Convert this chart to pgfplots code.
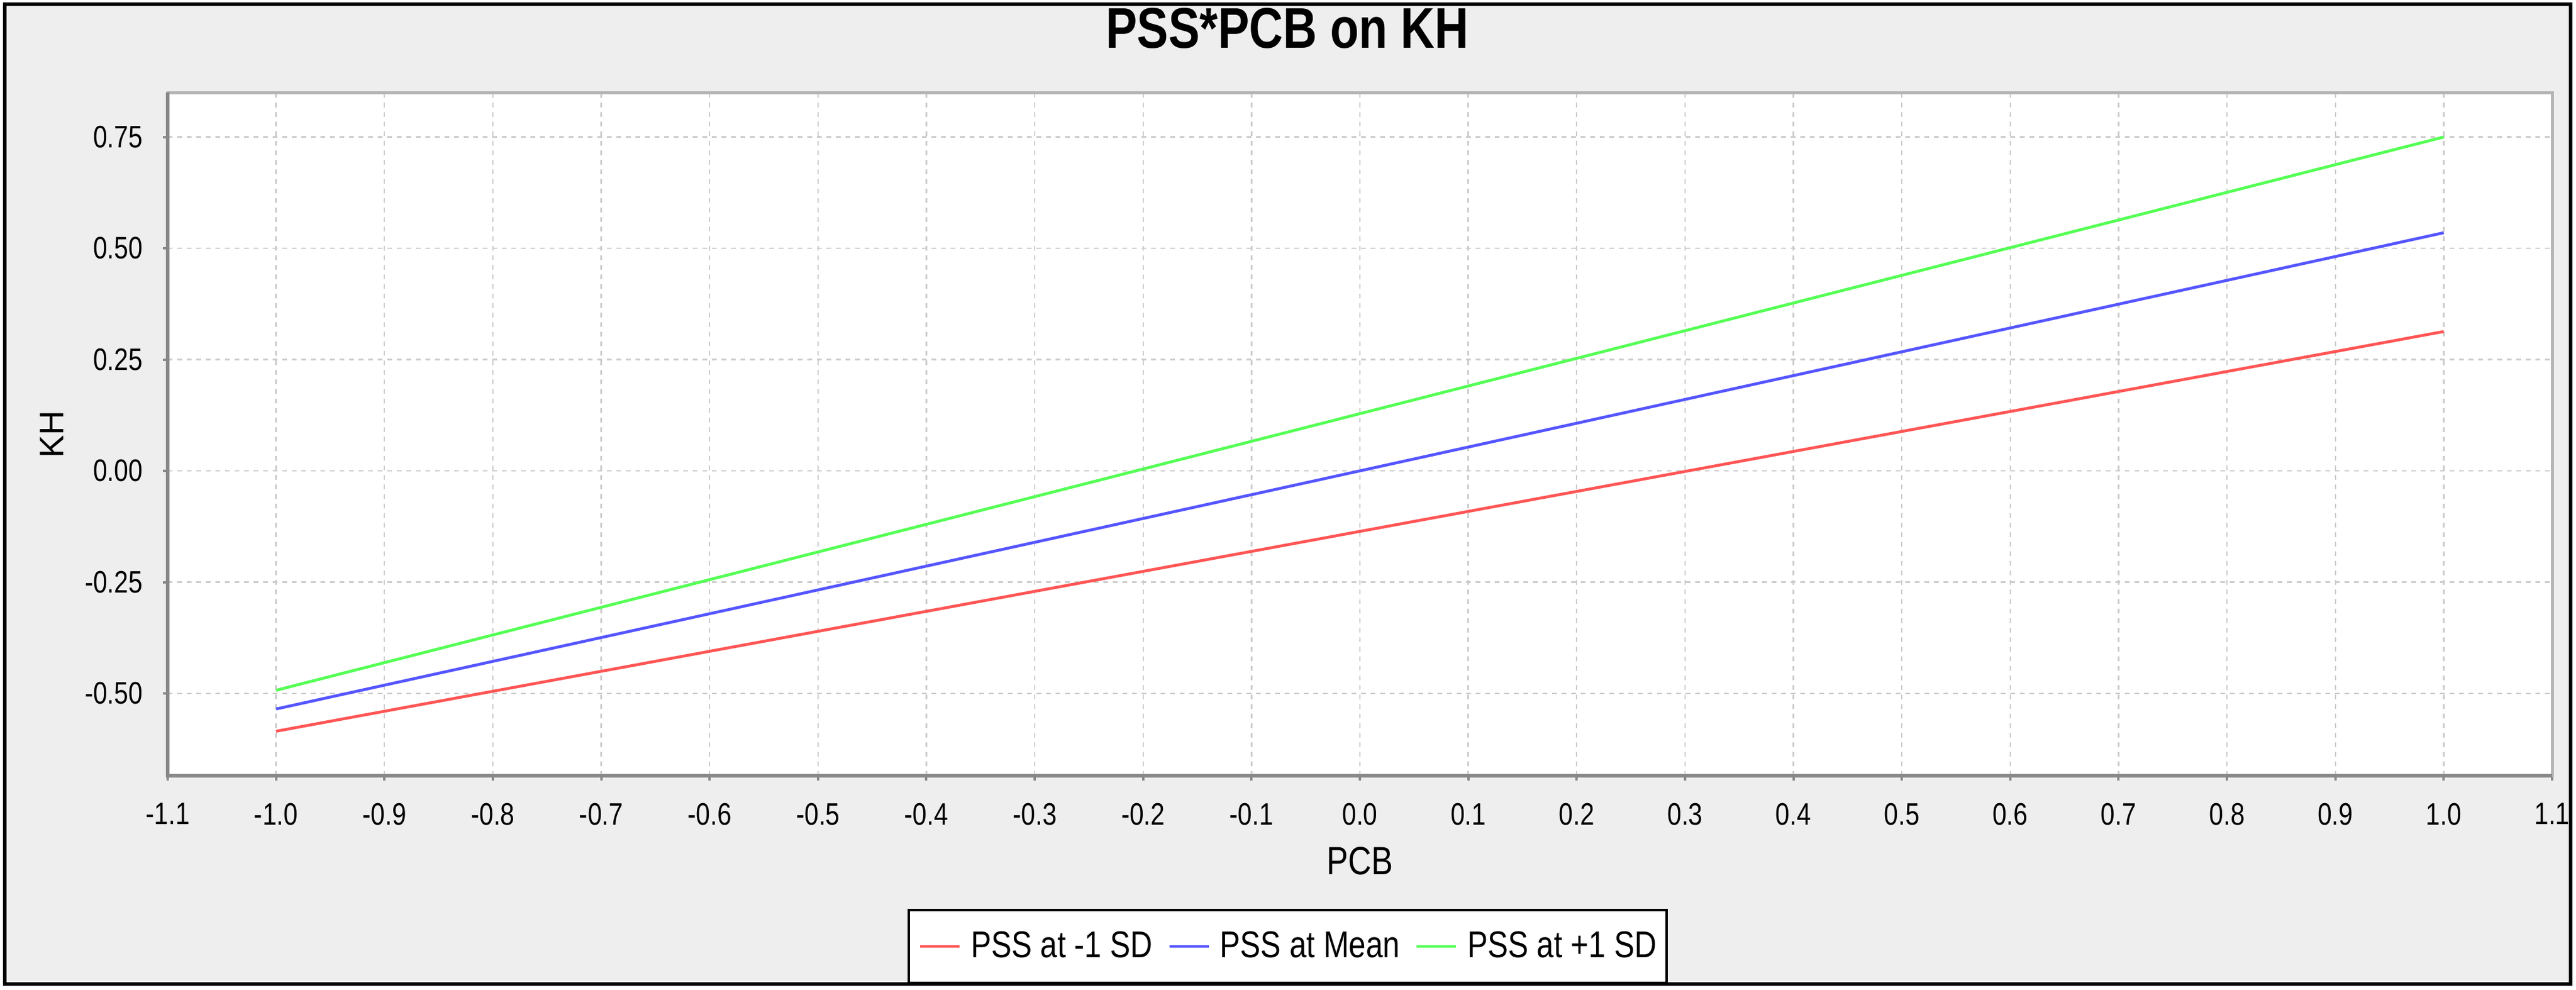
\documentclass[border=0pt]{standalone}
\usepackage{fontspec}
\setmainfont{Liberation Sans}[FakeStretch=0.82]
\newfontfamily\ylabfont{Liberation Sans}
\usepackage{pgfplots}
\pgfplotsset{compat=1.18}

\definecolor{sred}{HTML}{FF5555}
\definecolor{sblue}{HTML}{5555FF}
\definecolor{sgreen}{HTML}{55FF55}
\definecolor{chartbg}{HTML}{EEEEEE}
\definecolor{axisgray}{HTML}{888888}
\definecolor{framegray}{HTML}{B4B4B4}
\definecolor{gridgray}{HTML}{CCCCCC}

\begin{document}
\begin{tikzpicture}
\path[use as bounding box] (0,0) rectangle (1079.25pt,414.75pt);
\fill[white] (0,0) rectangle (1079.25pt,414.75pt);
\draw[line width=1.5pt, fill=chartbg] (2pt,2.4pt) rectangle (1077.1pt,413.1pt);

\begin{axis}[
    at={(70.25pt,89.75pt)}, anchor=south west,
    scale only axis, width=999pt, height=286.25pt,
    clip=false,
    axis background/.style={fill=white},
    xmin=-1.1, xmax=1.1,
    ymin=-0.685, ymax=0.85,
    xtick={-1.1,-1.0,-0.9,-0.8,-0.7,-0.6,-0.5,-0.4,-0.3,-0.2,-0.1,0,0.1,0.2,0.3,0.4,0.5,0.6,0.7,0.8,0.9,1.0,1.1},
    xticklabels={-1.1,-1.0,-0.9,-0.8,-0.7,-0.6,-0.5,-0.4,-0.3,-0.2,-0.1,0.0,0.1,0.2,0.3,0.4,0.5,0.6,0.7,0.8,0.9,1.0,1.1},
    ytick={-0.5,-0.25,0,0.25,0.5,0.75},
    yticklabels={-0.50,-0.25,0.00,0.25,0.50,0.75},
    xtick pos=bottom, ytick pos=left,
    tick align=outside, major tick length=2pt,
    tick style={axisgray, line width=1pt},
    every tick label/.append style={font=\fontsize{13}{15}\selectfont, inner sep=0pt},
    xticklabel style={anchor=north, yshift=-9.25pt},
    yticklabel style={anchor=east, xshift=-8.25pt},
    axis line style={framegray, line width=1.25pt},
    xmajorgrids, ymajorgrids,
    major grid style={gridgray, dash pattern=on 2pt off 2pt, line width=0.6pt},
    title={PSS*PCB on KH},
    title style={at={(0.4695,1.0734)}, anchor=center, font=\fontsize{24}{28}\selectfont\bfseries},
    xlabel={PCB},
    xlabel style={at={(0.5,-0.1245)}, anchor=center, font=\fontsize{16.5}{19}\selectfont},
    ylabel={KH},
    ylabel style={at={(-0.04855,0.5)}, anchor=center, font=\fontsize{14.25}{17}\selectfont\ylabfont},
    legend columns=3,
    legend style={at={(0.4698,-0.2498)}, anchor=center, draw=black, line width=1pt,
        fill=white, font=\fontsize{15.6}{18}\selectfont,
        inner xsep=4.25pt, inner ysep=9pt,
        nodes={inner sep=0pt},
        /tikz/every odd column/.append style={column sep=4.25pt},
        /tikz/every even column/.append style={column sep=6.5pt}},
    legend image code/.code={\draw[#1, line width=1pt] (0pt,0pt) -- (16.5pt,0pt);},
]

\addplot[sred, line width=1.2pt] coordinates {(-1,-0.585) (1,0.313)};
\addlegendentry{PSS at -1 SD}

\addplot[sblue, line width=1.2pt] coordinates {(-1,-0.535) (1,0.535)};
\addlegendentry{PSS at Mean}

\addplot[sgreen, line width=1.2pt] coordinates {(-1,-0.493) (1,0.75)};
\addlegendentry{PSS at +1 SD}

\draw[axisgray, line width=1.5pt] (rel axis cs:0,1) -- (rel axis cs:0,0) -- (rel axis cs:1,0);
\end{axis}
\end{tikzpicture}
\end{document}
